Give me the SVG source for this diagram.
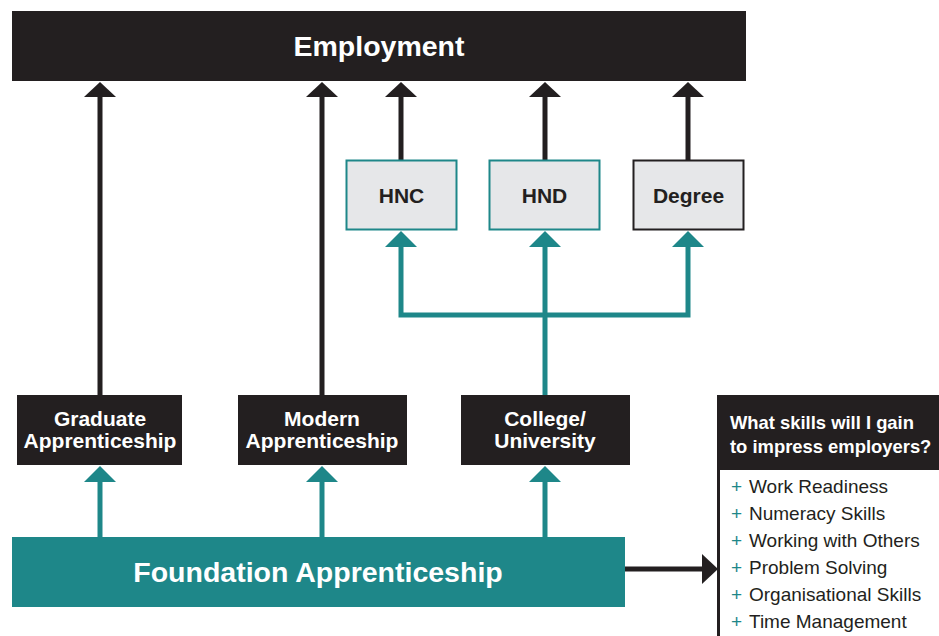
<svg xmlns="http://www.w3.org/2000/svg" width="939" height="636" viewBox="0 0 939 636">
<defs>
<style>
.dark{fill:#231f20}
.teal{fill:#1e8789}
.lbl{font-family:"Liberation Sans",Arial,sans-serif;font-weight:bold;fill:#ffffff;text-anchor:middle}
.lblk{font-family:"Liberation Sans",Arial,sans-serif;font-weight:bold;fill:#231f20;text-anchor:middle;font-size:21px}
.bk{stroke:#231f20;stroke-width:5;fill:none}
.tl{stroke:#1e8789;stroke-width:5;fill:none}
.item{font-family:"Liberation Sans",Arial,sans-serif;font-size:19px;fill:#231f20}
.plus{fill:#1e8789}
.hdr{font-family:"Liberation Sans",Arial,sans-serif;font-weight:bold;font-size:18.4px;fill:#ffffff}
</style>
</defs>
<rect width="939" height="636" fill="#ffffff"/>
<g id="connectors">
<line class="bk" x1="100" y1="395" x2="100" y2="95"/>
<line class="bk" x1="322" y1="395" x2="322" y2="95"/>
<line class="bk" x1="401" y1="160" x2="401" y2="95"/>
<line class="bk" x1="545" y1="160" x2="545" y2="95"/>
<line class="bk" x1="688" y1="160" x2="688" y2="95"/>
<polygon class="dark" points="100,82 116,97 84,97"/>
<polygon class="dark" points="322,82 338,97 306,97"/>
<polygon class="dark" points="401,82 417,97 385,97"/>
<polygon class="dark" points="545,82 561,97 529,97"/>
<polygon class="dark" points="688,82 704,97 672,97"/>
<polyline class="tl" points="401,245 401,315 688,315 688,245"/>
<line class="tl" x1="545" y1="395" x2="545" y2="245"/>
<polygon class="teal" points="401,231 417,247 385,247"/>
<polygon class="teal" points="545,231 561,247 529,247"/>
<polygon class="teal" points="688,231 704,247 672,247"/>
<line class="tl" x1="100" y1="537" x2="100" y2="480"/>
<line class="tl" x1="322" y1="537" x2="322" y2="480"/>
<line class="tl" x1="545" y1="537" x2="545" y2="480"/>
<polygon class="teal" points="100,466 116,482 84,482"/>
<polygon class="teal" points="322,466 338,482 306,482"/>
<polygon class="teal" points="545,466 561,482 529,482"/>
<line class="bk" x1="625" y1="569" x2="705" y2="569"/>
<polygon class="dark" points="718,569 702,554 702,584"/>
</g>
<g id="employment">
<rect class="dark" x="12" y="11" width="734" height="70"/>
<text class="lbl" x="379" y="56" font-size="28.5">Employment</text>
</g>
<g id="hnc">
<rect x="346.5" y="160.5" width="110" height="69" fill="#e6e7e9" stroke="#1e8789" stroke-width="2"/>
<text class="lblk" x="401.5" y="203">HNC</text>
</g>
<g id="hnd">
<rect x="489.5" y="160.5" width="110" height="69" fill="#e6e7e9" stroke="#1e8789" stroke-width="2"/>
<text class="lblk" x="544.5" y="203">HND</text>
</g>
<g id="degree">
<rect x="633.5" y="160.5" width="110" height="69" fill="#e6e7e9" stroke="#231f20" stroke-width="2"/>
<text class="lblk" x="688.5" y="203">Degree</text>
</g>
<g id="graduate">
<rect class="dark" x="17" y="395" width="165" height="70"/>
<text class="lbl" x="100" y="426" font-size="21">Graduate</text>
<text class="lbl" x="100" y="448" font-size="21">Apprenticeship</text>
</g>
<g id="modern">
<rect class="dark" x="238" y="395" width="169" height="70"/>
<text class="lbl" x="322" y="426" font-size="21">Modern</text>
<text class="lbl" x="322" y="448" font-size="21">Apprenticeship</text>
</g>
<g id="college">
<rect class="dark" x="461" y="395" width="169" height="70"/>
<text class="lbl" x="545" y="426" font-size="21">College/</text>
<text class="lbl" x="545" y="448" font-size="21">University</text>
</g>
<g id="foundation">
<rect class="teal" x="12" y="537" width="613" height="70"/>
<text class="lbl" x="318" y="582" font-size="28.5">Foundation Apprenticeship</text>
</g>
<g id="skills">
<rect class="dark" x="717" y="395" width="222" height="75"/>
<text class="hdr" x="730" y="429">What skills will I gain</text>
<text class="hdr" x="730" y="453">to impress employers?</text>
<rect class="dark" x="717" y="470" width="3" height="166"/>
<g class="item">
<text x="731" y="493"><tspan class="plus">+</tspan><tspan x="749">Work Readiness</tspan></text>
<text x="731" y="520"><tspan class="plus">+</tspan><tspan x="749">Numeracy Skills</tspan></text>
<text x="731" y="547"><tspan class="plus">+</tspan><tspan x="749">Working with Others</tspan></text>
<text x="731" y="574"><tspan class="plus">+</tspan><tspan x="749">Problem Solving</tspan></text>
<text x="731" y="601"><tspan class="plus">+</tspan><tspan x="749">Organisational Skills</tspan></text>
<text x="731" y="628"><tspan class="plus">+</tspan><tspan x="749">Time Management</tspan></text>
</g>
</g>
</svg>
